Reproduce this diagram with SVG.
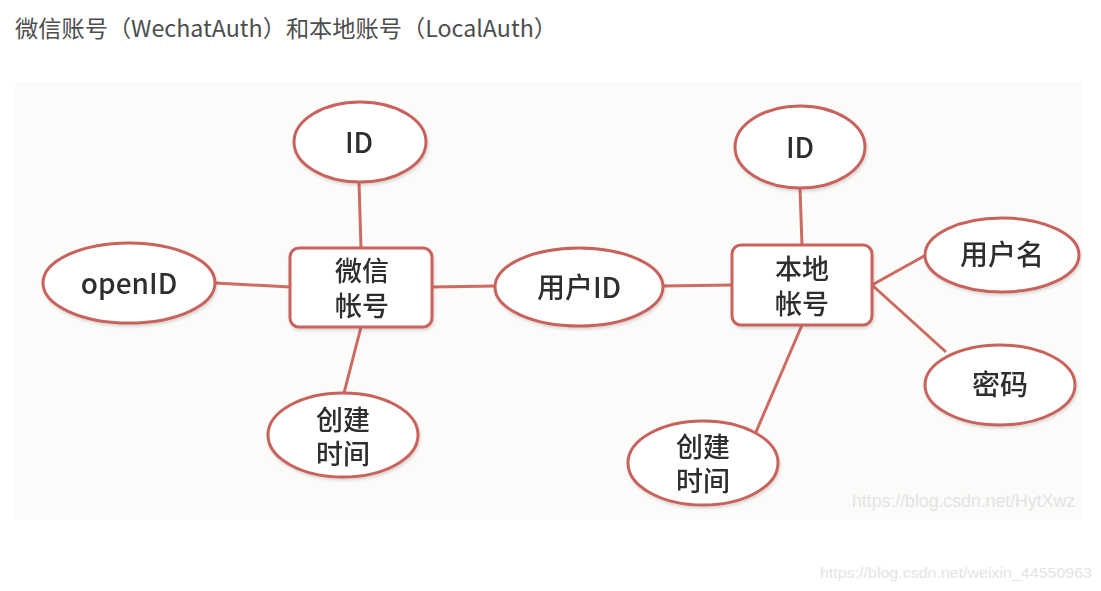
<svg xmlns="http://www.w3.org/2000/svg" width="1101" height="591" viewBox="0 0 1101 591">
<defs>
<style>
.bg{fill:#fbfbf9}
.n{fill:#ffffff;stroke:#c8625b;stroke-width:3}
.c{stroke:#cd6a62;stroke-width:3;fill:none}
.t{font-family:"Noto Sans CJK SC","Noto Sans",sans-serif;font-size:28px;font-weight:500;fill:#2e2e2e;text-anchor:middle}
.t2{font-size:27px}
.title{font-family:"Noto Sans CJK SC","Noto Sans",sans-serif;font-size:23px;fill:#4d4d4d}
.wm{font-family:"Liberation Sans",Arial,sans-serif;fill:#e4e4e4}
</style>
<filter id="sh" x="-20%" y="-20%" width="140%" height="140%">
<feDropShadow dx="1" dy="2" stdDeviation="1.5" flood-color="#000" flood-opacity="0.15"/>
</filter>
</defs>
<rect width="1101" height="591" fill="#ffffff"/>
<text class="title" x="15" y="37" textLength="542" lengthAdjust="spacingAndGlyphs">微信账号（WechatAuth）和本地账号（LocalAuth）</text>
<rect class="bg" x="15" y="82" width="1067" height="438"/>
<g id="connectors">
<line class="c" x1="359" y1="182" x2="361" y2="248"/>
<line class="c" x1="215" y1="283" x2="290" y2="287"/>
<line class="c" x1="361" y1="327" x2="344" y2="393"/>
<line class="c" x1="432" y1="287" x2="495" y2="286"/>
<line class="c" x1="663" y1="286" x2="732" y2="285"/>
<line class="c" x1="800" y1="188" x2="802" y2="245"/>
<line class="c" x1="872" y1="285" x2="926" y2="255"/>
<line class="c" x1="872" y1="285" x2="946" y2="352"/>
<line class="c" x1="802" y1="325" x2="756" y2="432"/>
</g>
<g id="wx-id" filter="url(#sh)"><ellipse class="n" cx="360" cy="142" rx="66" ry="40"/><text class="t" x="359" y="153">ID</text></g>
<g id="wx-openid" filter="url(#sh)"><ellipse class="n" cx="129" cy="283" rx="86" ry="40"/><text class="t" x="129" y="294">openID</text></g>
<g id="wx-account" filter="url(#sh)"><rect class="n" x="290" y="248" width="142" height="79" rx="9"/><text class="t t2" x="362" y="281">微信<tspan x="362" y="316">帐号</tspan></text></g>
<g id="wx-time" filter="url(#sh)"><ellipse class="n" cx="343" cy="435" rx="75" ry="42"/><text class="t t2" x="343" y="430">创建<tspan x="343" y="464">时间</tspan></text></g>
<g id="userid" filter="url(#sh)"><ellipse class="n" cx="579" cy="287" rx="84" ry="39"/><text class="t" x="579" y="298">用户ID</text></g>
<g id="local-id" filter="url(#sh)"><ellipse class="n" cx="800" cy="147" rx="65" ry="41"/><text class="t" x="800" y="158">ID</text></g>
<g id="local-account" filter="url(#sh)"><rect class="n" x="732" y="245" width="140" height="80" rx="9"/><text class="t t2" x="802" y="279">本地<tspan x="802" y="314">帐号</tspan></text></g>
<g id="local-username" filter="url(#sh)"><ellipse class="n" cx="1002" cy="255" rx="77" ry="37"/><text class="t" x="1002" y="265">用户名</text></g>
<g id="local-password" filter="url(#sh)"><ellipse class="n" cx="1000" cy="385" rx="75" ry="40"/><text class="t" x="1000" y="395">密码</text></g>
<g id="local-time" filter="url(#sh)"><ellipse class="n" cx="703" cy="463" rx="75" ry="42"/><text class="t t2" x="703" y="457">创建<tspan x="703" y="491">时间</tspan></text></g>
<text class="wm" x="852" y="507" font-size="18" textLength="223" lengthAdjust="spacingAndGlyphs">https://blog.csdn.net/HytXwz</text>
<text class="wm" x="820" y="578" font-size="15" textLength="272" lengthAdjust="spacingAndGlyphs">https://blog.csdn.net/weixin_44550963</text>
</svg>
